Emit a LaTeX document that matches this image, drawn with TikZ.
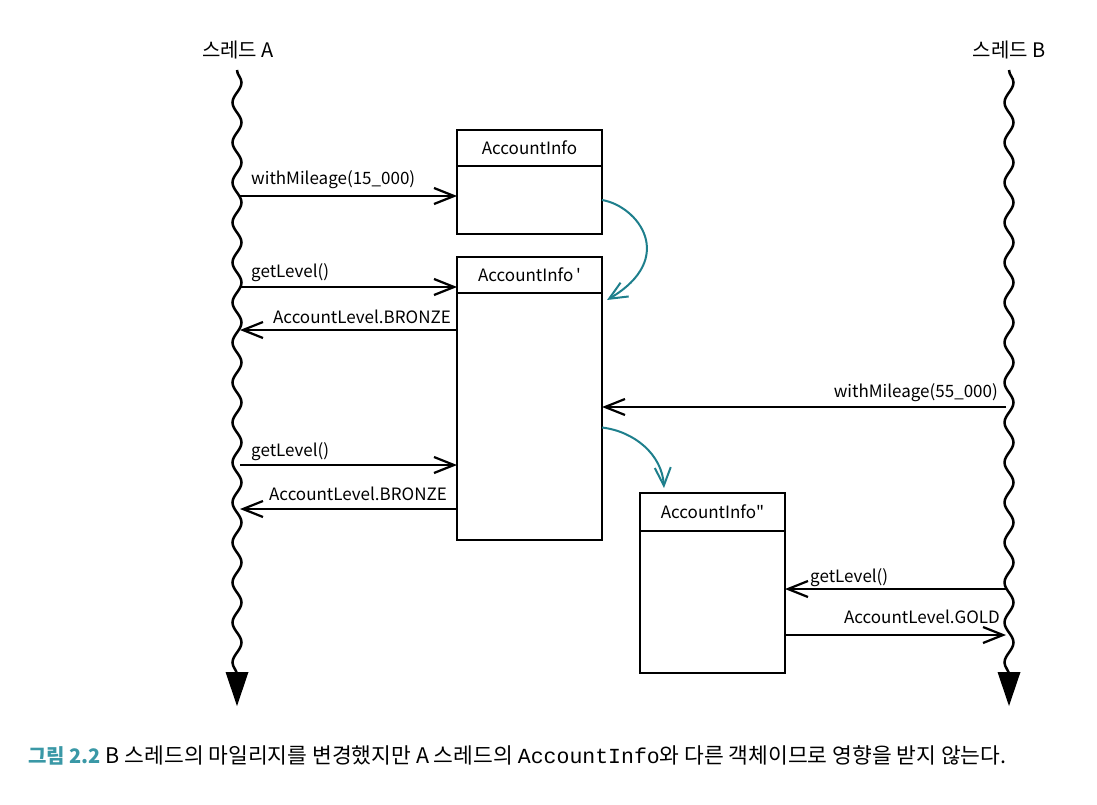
\documentclass[tikz,border=0pt]{standalone}
\usepackage{fontspec}
\setmainfont{Noto Sans CJK KR}
\setmonofont{Liberation Mono}
\usetikzlibrary{arrows.meta,decorations.pathmorphing}
\definecolor{copyteal}{HTML}{1E7F8C}
\definecolor{figteal}{HTML}{3A98A6}

\begin{document}
\begin{tikzpicture}[x=1pt,y=1pt,
		lbl/.style={font=\fontsize{17}{20}\selectfont,inner sep=0pt},
		msg/.style={line width=2.2pt,-{Straight Barb[length=20pt,width=16pt]}},
		thread/.style={line width=2.5pt,decorate,decoration={snake,segment length=40pt,amplitude=4.5pt}},
		objhead/.style={draw,line width=1.6pt,minimum width=145pt,anchor=north,inner sep=0pt,outer sep=0pt,font=\fontsize{17}{20}\selectfont},
		objbody/.style={draw,line width=1.6pt,minimum width=145pt,anchor=north,inner sep=0pt,outer sep=0pt},
		copyarr/.style={copyteal,line width=2pt,-{Straight Barb[length=18pt,width=16pt]}}]
		\useasboundingbox (0,0) rectangle (1097,-805);
		% threads
		\node[font=\fontsize{20}{24}\selectfont] (thA) at (238,-50) {스레드 A};
		\node[font=\fontsize{20}{24}\selectfont] (thB) at (1009,-50) {스레드 B};
		\coordinate (aTop) at (237,-70);
		\coordinate (aEnd) at (237,-692);
		\coordinate (aHead) at (237,-672);
		\coordinate (bTop) at (1009,-70);
		\coordinate (bEnd) at (1009,-692);
		\coordinate (bHead) at (1009,-672);
		\draw[thread] (aTop) -- (aEnd);
		\draw[thread] (bTop) -- (bEnd);
		\fill (aHead) ++(-11.5,0) -- ++(23,0) -- ++(-11.5,-34) -- cycle;
		\fill (bHead) ++(-11.5,0) -- ++(23,0) -- ++(-11.5,-34) -- cycle;
		% objects
		\node[objhead,minimum height=36pt] (head1) at (529.5,-130) {AccountInfo};
		\node[objbody,minimum height=68pt] (body1) at (head1.south) {};
		\node[objhead,minimum height=36pt] (head2) at (529.5,-257) {AccountInfo\,\textquotesingle};
		\node[objbody,minimum height=247pt] (body2) at (head2.south) {};
		\node[objhead,minimum height=38pt] (head3) at (712.5,-493) {AccountInfo\textquotedbl};
		\node[objbody,minimum height=142pt] (body3) at (head3.south) {};
		% thread A calls
		\coordinate (m1) at (240,-196);
		\coordinate (m2) at (240,-287);
		\coordinate (m3) at (240,-330);
		\coordinate (m5) at (240,-465);
		\coordinate (m6) at (240,-509);
		\draw[msg] (m1) -- (m1 -| body1.west);
		\draw[msg] (m2) -- (m2 -| body2.west);
		\draw[msg] (m3 -| body2.west) -- (m3);
		\draw[msg] (m5) -- (m5 -| body2.west);
		\draw[msg] (m6 -| body2.west) -- (m6);
		\node[lbl,anchor=base west] (l1) at (251,-185) {withMileage(15\_000)};
		\node[lbl,anchor=base west] (l2) at (251,-277) {getLevel()};
		\node[lbl,anchor=base east] (l3) at (451,-323) {AccountLevel.BRONZE};
		\node[lbl,anchor=base west] (l5) at (251,-456) {getLevel()};
		\node[lbl,anchor=base east] (l6) at (447,-500) {AccountLevel.BRONZE};
		% thread B calls
		\coordinate (m4) at (1006,-407);
		\coordinate (m7) at (1006,-589);
		\coordinate (m8) at (1006,-635);
		\draw[msg] (m4) -- (m4 -| body2.east);
		\draw[msg] (m7) -- (m7 -| body3.east);
		\draw[msg] (m8 -| body3.east) -- (m8);
		\node[lbl,anchor=base east] (l4) at (998,-397) {withMileage(55\_000)};
		\node[lbl,anchor=base west] (l7) at (810,-582) {getLevel()};
		\node[lbl,anchor=base east] (l8) at (1000,-623) {AccountLevel.GOLD};
		% copies
		\coordinate (c1s) at (body1.east);
		\coordinate (c1e) at ([shift={(5,-7)}]head2.south east);
		\coordinate (c2s) at ([yshift=-11]body2.east);
		\coordinate (c2e) at ([shift={(24,5)}]head3.north west);
		\draw[copyarr] (c1s) .. controls +(36,-6) and +(71,42) .. (c1e);
		\draw[copyarr] (c2s) .. controls +(33,-4) and +(-2,33) .. (c2e);
		% caption
		\node[anchor=base west,inner sep=0pt,font=\fontsize{21.5}{24}\selectfont] (cap) at (28,-763)
			{\textcolor{figteal}{\fontsize{20}{24}\selectfont\bfseries 그림 2.2} B 스레드의 마일리지를 변경했지만 A 스레드의 \texttt{AccountInfo}와 다른 객체이므로 영향을 받지 않는다.};
	\end{tikzpicture}
\end{document}
